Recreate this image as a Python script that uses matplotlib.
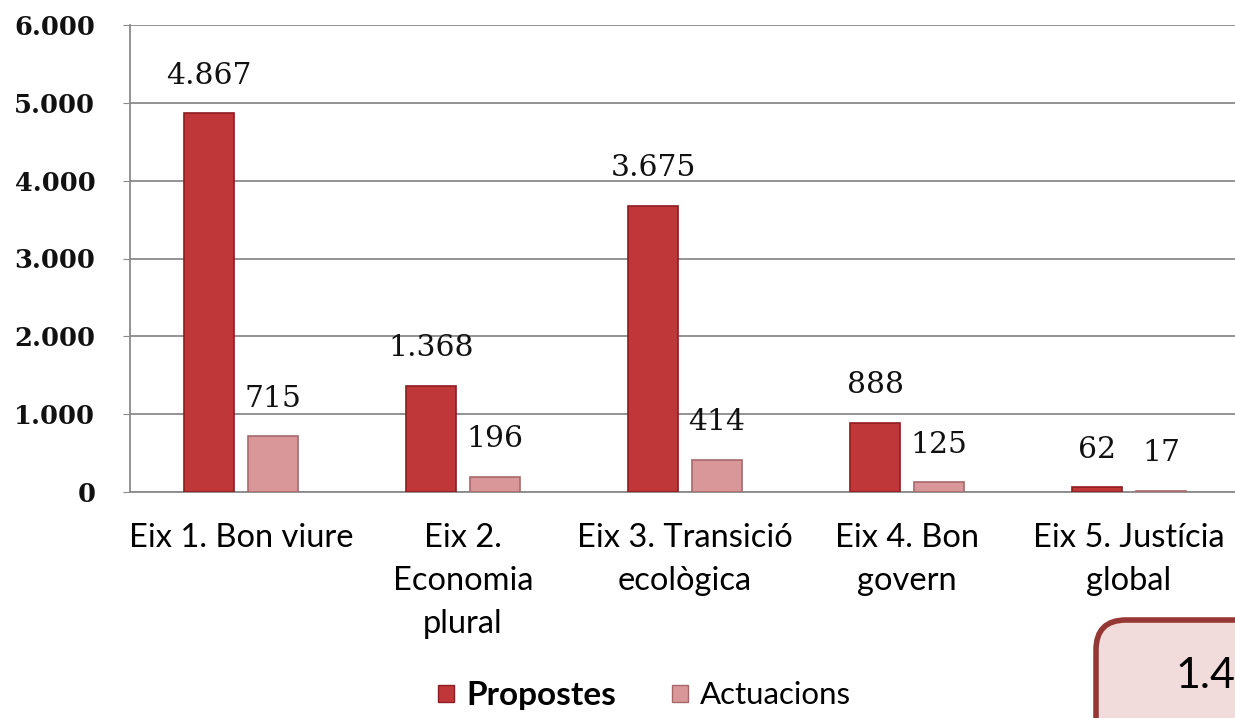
import numpy as np
import matplotlib
matplotlib.use('Agg')
import matplotlib.pyplot as plt
import matplotlib.transforms as mtransforms
from matplotlib.patches import Patch, FancyBboxPatch

categories = ['Eix 1. Bon viure', 'Eix 2.\nEconomia\nplural', 'Eix 3. Transició\necològica',
              'Eix 4. Bon\ngovern', 'Eix 5. Justícia\nglobal']
propostes = [4867, 1368, 3675, 888, 62]
actuacions = [715, 196, 414, 125, 17]
yticks = [0, 1000, 2000, 3000, 4000, 5000, 6000]

def fmt(v):
    return '{:,}'.format(v).replace(',', '.')

c_prop = '#c0373a'
c_act = '#d9979a'
grid_c = '#8a8a8a'

fig = plt.figure(figsize=(12.35, 7.18), dpi=100, facecolor='w')
ax = fig.add_axes([130/1235, 1-492/718, 1110/1235, 467/718])

x = np.arange(len(categories))
w = 0.225
off = 0.144
b1 = ax.bar(x - off, propostes, w, color=c_prop, edgecolor='#8e1d20', lw=1.2, zorder=3)
b2 = ax.bar(x + off, actuacions, w, color=c_act, edgecolor='#a8686b', lw=1.2, zorder=3)

for bars, vals in ((b1, propostes), (b2, actuacions)):
    for r, v in zip(bars, vals):
        ax.annotate(fmt(v), (r.get_x() + r.get_width()/2, v), xytext=(0, 17),
                    textcoords='offset points', ha='center', va='bottom',
                    family='DejaVu Serif', fontsize=21.5, color='#111111')

ax.set_xlim(-0.5, len(categories) - 0.5)
ax.set_ylim(0, 6000)
ax.set_yticks(yticks)
ax.set_yticklabels([fmt(v) for v in yticks], family='DejaVu Serif', fontweight='bold',
                   fontsize=18.5, color='#111111')
ax.tick_params(axis='y', length=5, color=grid_c, pad=20)
ax.set_xticks(x)
ax.set_xticklabels(categories, family='Lato', fontsize=23.5, linespacing=1.55, color='black')
ax.tick_params(axis='x', length=0, pad=22)
ax.yaxis.grid(True, color=grid_c, lw=1.3, zorder=0)
for s in ('top', 'right'):
    ax.spines[s].set_visible(False)
for s in ('left', 'bottom'):
    ax.spines[s].set_color(grid_c)
    ax.spines[s].set_linewidth(1.3)

handles = [Patch(facecolor=c_prop, edgecolor='#8e1d20'), Patch(facecolor=c_act, edgecolor='#a8686b')]
leg = fig.legend(handles, ['Propostes', 'Actuacions'], loc='center', bbox_to_anchor=(0.522, 1-695/718),
                 ncol=2, frameon=False, prop={'family': 'Lato', 'size': 22.5},
                 handlelength=0.5, handleheight=0.5, handletextpad=0.4, columnspacing=1.8)
leg.get_texts()[0].set_fontweight('bold')
leg.get_texts()[0].set_fontsize(24)

# caixa inferior dreta
box = FancyBboxPatch((1096, -60), 260, 158, boxstyle='round,pad=0,rounding_size=30',
                     transform=mtransforms.IdentityTransform(), facecolor='#f2dcdb',
                     edgecolor='#953735', lw=4, clip_on=False)
fig.patches.append(box)
fig.text(1175/1235, 1-676/718, '1.4', family='Lato', fontsize=31, ha='left', va='center')

fig.savefig('out.png', dpi=100)
